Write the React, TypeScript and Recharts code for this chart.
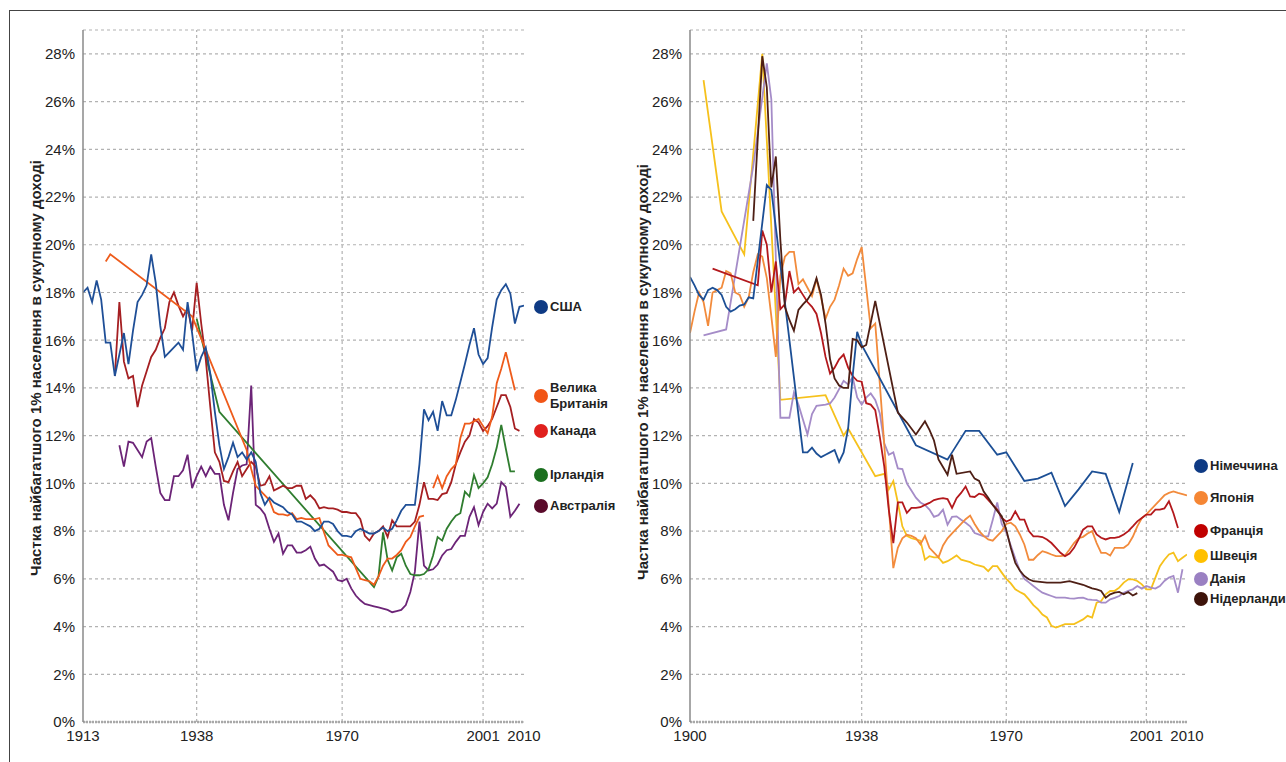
import { LineChart, Line, XAxis, YAxis, CartesianGrid, ReferenceLine } from 'recharts';

type Pt = { year: number; v: number };

const FONT = '"Liberation Sans", Arial, Helvetica, sans-serif';
const AXIS_TITLE = 'Частка найбагатшого 1% населення в сукупному доході';

const shareTicks = [0, 2, 4, 6, 8, 10, 12, 14, 16, 18, 20, 22, 24, 26, 28];
const leftYearTicks = [1913, 1938, 1970, 2001, 2010];
const rightYearTicks = [1900, 1938, 1970, 2001, 2010];
const gridYears = [1938, 1970, 2001];

// ---- англомовні країни ----
const usaFrom = 1913;
const usaShare = [
  18.0, 18.2, 17.6, 18.5, 17.7, 15.9, 15.9, 14.5, 15.4, 16.3,
  15.0, 16.4, 17.6, 17.9, 18.3, 19.6, 18.4, 16.6, 15.3, 15.5,
  15.7, 15.9, 15.6, 17.6, 16.3, 14.7, 15.3, 15.7, 14.6, 13.0,
  11.6, 10.6, 11.1, 11.7, 11.1, 11.3, 11.0, 11.3, 10.9, 9.6,
  9.1, 9.4, 9.2, 9.1, 9.0, 8.8, 8.7, 8.4, 8.4, 8.3,
  8.2, 8.0, 8.1, 8.4, 8.4, 8.3, 8.0, 7.8, 7.8, 7.75,
  8.0, 8.1, 8.0, 7.9, 7.9, 8.0, 8.15, 8.0, 8.1, 8.45,
  8.85, 9.1, 9.1, 9.1, 10.8, 13.1, 12.65, 13.0, 12.2, 13.45,
  12.85, 12.85, 13.5, 14.25, 15.0, 15.8, 16.5, 15.4, 15.0, 15.25,
  16.55, 17.7, 18.1, 18.35, 17.95, 16.7, 17.4, 17.45,
];

const ukSparse: [number, number][] = [[1918, 19.3], [1919, 19.6], [1937, 17.0], [1949, 11.4]];
const ukMidFrom = 1950;
const ukMid = [
  10.6, 9.9, 9.7, 9.5, 9.3, 8.8, 8.7, 8.7, 8.65, 8.75,
  8.5, 8.55, 8.5, 8.5, 8.5, 8.55, 7.95, 7.4, 7.2, 7.0,
  7.0, 6.95, 6.9, 6.45, 6.0, 5.95, 5.9, 5.75, 6.1, 6.55,
  6.85, 6.85, 7.0, 7.2, 7.55, 7.75, 8.2, 8.6, 8.65,
];
const ukLateFrom = 1990;
const ukLate = [9.8, 10.3, 9.8, 10.3, 10.6, 10.8, 11.9, 12.5, 12.5, 12.6, 12.7, 12.4, 12.1, 12.8, 14.2, 14.8, 15.5, 14.7, 13.9];

const canadaFrom = 1920;
const canadaShare = [
  14.5, 17.6, 15.1, 14.4, 14.5, 13.2, 14.1, 14.7, 15.3, 15.6,
  16.1, 16.5, 17.6, 18.0, 17.45, 17.0, 17.35, 16.4, 18.4, 16.7,
  15.2, 13.2, 11.3, 10.9, 10.1, 10.05, 10.5, 10.9, 10.3, 10.6,
  10.9, 10.7, 9.9, 9.95, 10.3, 9.7, 9.8, 9.9, 9.8, 9.8,
  9.9, 9.9, 9.35, 9.5, 9.3, 8.95, 9.0, 8.95, 8.95, 8.9,
  8.8, 8.8, 8.75, 8.75, 8.5, 7.8, 7.6, 7.9, 8.0, 8.2,
  7.75, 8.45, 8.2, 8.2, 8.2, 8.2, 8.4, 9.1, 10.05, 9.35,
  9.35, 9.3, 9.55, 9.6, 10.05, 10.8, 11.3, 11.75, 12.0, 12.7,
  12.55, 12.2, 12.4, 12.7, 13.2, 13.7, 13.7, 13.2, 12.3, 12.2,
];

const irelandSparse: [number, number][] = [[1938, 16.9], [1943, 13.0]];
const irelandFrom = 1977;
const irelandShare = [
  5.65, 6.1, 7.95, 6.8, 6.35, 6.9, 7.05, 6.55, 6.2, 6.15,
  6.15, 6.2, 6.4, 6.98, 7.75, 7.6, 8.1, 8.4, 8.65, 8.75,
  9.65, 9.45, 10.35, 9.8, 10.0, 10.25, 10.8, 11.5, 12.45, 11.45,
  10.5, 10.5,
];

const australiaFrom = 1921;
const australiaShare = [
  11.6, 10.7, 11.75, 11.7, 11.4, 11.1, 11.75, 11.9, 10.7, 9.6,
  9.3, 9.3, 10.3, 10.3, 10.55, 11.2, 9.8, 10.3, 10.7, 10.3,
  10.7, 10.4, 10.4, 9.1, 8.45, 9.6, 10.6, 10.75, 10.8, 14.1,
  9.1, 8.95, 8.7, 8.1, 7.55, 7.9, 7.05, 7.4, 7.4, 7.1,
  7.1, 7.2, 7.35, 6.85, 6.55, 6.6, 6.45, 6.3, 5.95, 5.9,
  6.0, 5.6, 5.3, 5.1, 4.95, 4.9, 4.85, 4.8, 4.75, 4.7,
  4.6, 4.65, 4.7, 4.9, 5.45, 6.3, 8.4, 6.55, 6.35, 6.4,
  6.6, 6.98, 7.2, 7.25, 7.55, 7.8, 7.8, 8.6, 9.0, 8.25,
  8.8, 9.15, 8.95, 9.15, 10.05, 9.85, 8.6, 8.85, 9.15,
];

// ---- континентальна Європа та Японія ----
const germanyEarlyFrom = 1900;
const germanyEarly = [18.65, 18.3, 17.9, 17.7, 18.1, 18.2, 18.1, 17.9, 17.4, 17.2, 17.3, 17.45, 17.5, 17.8, 17.75];
const germanyWar: [number, number][] = [[1917, 22.5], [1918, 22.3]];
const germanyMidFrom = 1925;
const germanyMid = [11.3, 11.3, 11.5, 11.25, 11.1, 11.2, 11.3, 11.4, 10.9, 11.3, 12.3, 14.5, 16.35, 15.8];
const germanyPost: [number, number][] = [
  [1950, 11.6], [1957, 11.0], [1958, 11.3], [1961, 12.2], [1964, 12.2], [1968, 11.2], [1970, 11.3],
  [1974, 10.1], [1977, 10.2], [1980, 10.45], [1983, 9.05], [1986, 9.75], [1989, 10.5], [1992, 10.4],
  [1995, 8.8], [1998, 10.85],
];

const japanFrom = 1900;
const japanShare = [
  16.3, 17.2, 18.0, 17.6, 16.6, 18.0, 18.1, 18.2, 18.9, 18.8,
  18.0, 17.9, 17.4, 17.8, 18.85, 19.6, 19.5, 18.6, 17.0, 15.3,
  18.7, 19.5, 19.7, 19.7, 18.35, 18.55, 18.2, 17.85, 18.55, 17.8,
  16.9, 17.4, 17.7, 18.3, 19.0, 18.7, 18.8, 19.4, 19.9, 18.2,
  16.5, 16.7, 14.2, 11.6, 9.0, 6.45, 7.3, 7.7, 7.85, 7.8,
  7.7, 7.45, 7.8, 7.3, 7.1, 6.9, 7.4, 7.7, 7.9, 8.1,
  8.3, 8.5, 8.65, 8.3, 8.0, 7.8, 7.65, 7.6, 7.8, 8.0,
  8.3, 8.35, 8.2, 7.86, 7.44, 6.8, 6.8, 7.0, 7.16, 7.1,
  7.02, 6.95, 6.95, 6.98, 7.23, 7.5, 7.7, 7.76, 7.9, 8.0,
  7.5, 7.09, 7.09, 6.98, 7.3, 7.3, 7.3, 7.44, 7.76, 8.2,
  8.55, 8.7, 8.9, 9.1, 9.3, 9.5, 9.6, 9.66, 9.6, 9.55, 9.5,
];

const franceSparse: [number, number][] = [[1905, 19.0], [1915, 18.3]];
const franceFrom = 1916;
const franceShare = [
  20.6, 20.0, 18.0, 19.3, 17.3, 17.5, 18.9, 18.0, 18.2, 17.9,
  17.6, 17.4, 17.1, 16.3, 15.3, 14.6, 14.85, 15.2, 15.4, 14.85,
  14.5, 14.3, 14.26, 13.36, 13.3, 13.07, 11.96, 10.7, 8.89, 7.5,
  9.2, 9.2, 8.76, 8.97, 8.97, 9.0, 9.1, 9.18, 9.3, 9.35,
  9.38, 9.34, 8.97, 9.38, 9.6, 9.87, 9.45, 9.43, 9.57, 9.52,
  9.31, 9.1, 8.9, 8.55, 8.4, 8.48, 8.83, 8.48, 8.48, 8.0,
  7.78, 7.78, 7.75, 7.65, 7.5, 7.3, 7.09, 6.95, 7.06, 7.3,
  7.65, 8.06, 8.2, 8.2, 7.86, 7.72, 7.65, 7.72, 7.72, 7.76,
  7.86, 8.0, 8.2, 8.41, 8.55, 8.69, 8.69, 8.9, 8.9, 8.95,
  9.25, 8.75, 8.13,
];

const swedenSparse: [number, number][] = [
  [1903, 26.9], [1907, 21.4], [1912, 19.6], [1916, 28.0], [1920, 13.5], [1930, 13.7],
  [1934, 12.0], [1935, 12.3], [1941, 10.3], [1943, 10.4],
];
const swedenFrom = 1944;
const swedenShare = [
  9.75, 10.1, 9.2, 8.2, 7.8, 7.7, 7.65, 7.6, 6.8, 6.95,
  6.9, 6.9, 6.67, 6.74, 6.85, 6.98, 6.8, 6.75, 6.7, 6.6,
  6.55, 6.5, 6.32, 6.53, 6.53, 6.26, 6.0, 5.81, 5.56, 5.45,
  5.35, 5.14, 4.9, 4.73, 4.5, 4.38, 4.03, 3.96, 4.03, 4.1,
  4.1, 4.1, 4.2, 4.3, 4.45, 4.38, 5.0, 5.07, 5.35, 5.49,
  5.5, 5.63, 5.84, 5.98, 5.98, 5.91, 5.77, 5.56, 5.56, 6.05,
  6.53, 6.8, 7.02, 7.1, 6.74, 6.88, 7.02,
];

const denmarkSparse: [number, number][] = [
  [1903, 16.2], [1908, 16.45], [1914, 23.3], [1917, 27.6], [1918, 26.1], [1920, 12.75],
  [1922, 12.75], [1923, 13.8], [1924, 13.3], [1926, 12.05], [1927, 12.9], [1928, 13.25],
  [1930, 13.3], [1931, 13.35], [1932, 13.6], [1934, 14.3], [1935, 14.15], [1936, 14.45],
  [1937, 13.6], [1938, 13.3], [1939, 13.6], [1940, 13.77], [1941, 13.5], [1942, 12.94],
  [1943, 11.68], [1944, 11.2], [1945, 11.3], [1946, 10.63], [1947, 10.6], [1948, 10.0],
  [1949, 9.7], [1950, 9.4],
];
const denmarkFrom = 1951;
const denmarkShare = [
  9.2, 9.1, 8.9, 8.6, 8.67, 8.9, 8.27, 8.6, 8.62, 8.48,
  8.35, 8.2, 7.92, 7.85, 7.78, 7.78, 8.47, 9.2, 8.3, 7.95,
  7.4, 6.85, 6.35, 6.0, 5.85, 5.7, 5.55, 5.42, 5.35, 5.28,
  5.21, 5.21, 5.21, 5.18, 5.17, 5.2, 5.21, 5.14, 5.12, 5.11,
  5.0, 5.0, 5.14, 5.2, 5.28, 5.42, 5.5, 5.56, 5.7, 5.59,
  5.7, 5.63, 5.59, 5.7, 5.91, 6.05, 6.12, 5.42, 6.4,
];

const netherlandsShare: [number, number][] = [
  [1914, 21.0], [1916, 27.9], [1917, 26.6], [1918, 22.4], [1919, 23.7], [1920, 20.2],
  [1921, 17.4], [1922, 16.85], [1923, 16.4], [1924, 17.27], [1925, 17.5], [1926, 17.7],
  [1927, 18.0], [1928, 18.6], [1929, 17.9], [1930, 16.7], [1931, 15.2], [1932, 14.4],
  [1933, 14.1], [1934, 14.0], [1935, 14.0], [1936, 16.05], [1937, 16.0], [1938, 15.7],
  [1939, 15.8], [1941, 17.65], [1946, 12.97], [1948, 12.55], [1950, 12.05], [1952, 12.6],
  [1953, 12.24], [1954, 11.8], [1955, 11.0], [1957, 10.36], [1958, 11.2], [1959, 10.4],
  [1962, 10.5], [1963, 10.2], [1964, 10.1], [1965, 9.66], [1966, 9.4], [1967, 9.1],
  [1968, 8.85], [1969, 8.62], [1970, 8.06], [1971, 7.3], [1972, 6.67], [1973, 6.35],
  [1974, 6.12], [1975, 5.98], [1976, 5.9], [1977, 5.88], [1978, 5.86], [1979, 5.84],
  [1980, 5.84], [1981, 5.84], [1982, 5.84], [1983, 5.87], [1984, 5.9], [1985, 5.85],
  [1986, 5.8], [1987, 5.75], [1988, 5.67], [1989, 5.6], [1990, 5.56], [1991, 5.49],
  [1992, 5.21], [1993, 5.35], [1994, 5.42], [1995, 5.45], [1996, 5.35], [1997, 5.45],
  [1998, 5.3], [1999, 5.4],
];

function run(from: number, values: number[]): Pt[] {
  return values.map((v, i) => ({ year: from + i, v }));
}
function pairs(list: [number, number][]): Pt[] {
  return list.map(([year, v]) => ({ year, v }));
}

type Series = { key: string; color: string; data: Pt[] };

const leftSeries: Series[] = [
  { key: 'australia', color: '#6c2477', data: run(australiaFrom, australiaShare) },
  { key: 'ireland', color: '#2f7d2f', data: [...pairs(irelandSparse), ...run(irelandFrom, irelandShare)] },
  { key: 'canada', color: '#a51f22', data: run(canadaFrom, canadaShare) },
  { key: 'ukEarly', color: '#ee5b1b', data: [...pairs(ukSparse), ...run(ukMidFrom, ukMid)] },
  { key: 'ukLate', color: '#ee5b1b', data: run(ukLateFrom, ukLate) },
  { key: 'usa', color: '#1f4f97', data: run(usaFrom, usaShare) },
];

const rightSeries: Series[] = [
  { key: 'sweden', color: '#f6c11c', data: [...pairs(swedenSparse), ...run(swedenFrom, swedenShare)] },
  { key: 'denmark', color: '#a58cc8', data: [...pairs(denmarkSparse), ...run(denmarkFrom, denmarkShare)] },
  { key: 'japan', color: '#f28b3c', data: run(japanFrom, japanShare) },
  { key: 'france', color: '#b3181c', data: [...pairs(franceSparse), ...run(franceFrom, franceShare)] },
  {
    key: 'germany', color: '#1c4f95',
    data: [...run(germanyEarlyFrom, germanyEarly), ...pairs(germanyWar), ...run(germanyMidFrom, germanyMid), ...pairs(germanyPost)],
  },
  { key: 'netherlands', color: '#4e1f15', data: pairs(netherlandsShare) },
];

const leftLegend = [
  { label: ['США'], dot: '#0e3a84', y: 306 },
  { label: ['Велика', 'Британія'], dot: '#f15517', y: 387 },
  { label: ['Канада'], dot: '#e0201d', y: 430 },
  { label: ['Ірландія'], dot: '#1b6f1f', y: 474 },
  { label: ['Австралія'], dot: '#5a0b2b', y: 505 },
];
const rightLegend = [
  { label: ['Німеччина'], dot: '#0e3a84', y: 465 },
  { label: ['Японія'], dot: '#f58634', y: 497 },
  { label: ['Франція'], dot: '#c00000', y: 530 },
  { label: ['Швеція'], dot: '#ffc000', y: 555 },
  { label: ['Данія'], dot: '#9a80c2', y: 578 },
  { label: ['Нідерланди'], dot: '#3d130a', y: 598 },
];

const tickStyle = { fontSize: 15, fill: '#222', fontFamily: FONT };

function Panel({ left, width, axisWidth, plotRight, domain, ticks, series }: {
  left: number; width: number; axisWidth: number; plotRight: number;
  domain: [number, number]; ticks: number[]; series: Series[];
}) {
  return (
    <div style={{ position: 'absolute', left, top: 0 }}>
      <LineChart width={width} height={762} margin={{ top: 30, right: width - plotRight, bottom: 10, left: 0 }}>
        <CartesianGrid vertical={false} stroke="#b2b2b2" strokeDasharray="3 3" strokeWidth={1.2} />
        {gridYears.map(y => (
          <ReferenceLine key={y} x={y} stroke="#b2b2b2" strokeDasharray="3 3" strokeWidth={1.2} />
        ))}
        <XAxis
          dataKey="year"
          type="number"
          domain={domain}
          ticks={ticks}
          interval={0}
          allowDataOverflow
          tickLine={false}
          axisLine={{ stroke: '#a8a8a8', strokeWidth: 2.5, strokeDasharray: '2 1' }}
          tick={tickStyle}
          height={30}
        />
        <YAxis
          type="number"
          domain={[0, 29]}
          ticks={shareTicks}
          interval={0}
          tickFormatter={(v: number) => `${v}%`}
          tickLine={false}
          axisLine={{ stroke: '#8a8a8a', strokeWidth: 1.5 }}
          tick={tickStyle}
          width={axisWidth}
        />
        {series.map(s => (
          <Line
            key={s.key}
            name={s.key}
            data={s.data}
            dataKey="v"
            type="linear"
            stroke={s.color}
            strokeWidth={1.8}
            dot={false}
            isAnimationActive={false}
          />
        ))}
      </LineChart>
    </div>
  );
}

function Legend({ items, x }: { items: { label: string[]; dot: string; y: number }[]; x: number }) {
  return (
    <>
      {items.map(it => (
        <div key={it.label.join(' ')} style={{ position: 'absolute', left: x - 7, top: it.y - 7, display: 'flex', alignItems: 'center' }}>
          <span style={{ width: 14, height: 14, borderRadius: 7, background: it.dot, flex: 'none' }} />
          <span style={{ marginLeft: 2, fontFamily: FONT, fontWeight: 700, fontSize: 13, lineHeight: '16px', color: '#222', whiteSpace: 'nowrap' }}>
            {it.label.map(l => <div key={l}>{l}</div>)}
          </span>
        </div>
      ))}
    </>
  );
}

function AxisTitle({ cx, cy }: { cx: number; cy: number }) {
  return (
    <div style={{
      position: 'absolute', left: cx, top: cy, transform: 'translate(-50%, -50%) rotate(-90deg)',
      fontFamily: FONT, fontWeight: 700, fontSize: 15, color: '#222', whiteSpace: 'nowrap',
    }}>
      {AXIS_TITLE}
    </div>
  );
}

export default function App() {
  return (
    <div style={{ position: 'fixed', left: 0, top: 0, width: 1286, height: 762, overflow: 'hidden', background: '#fff' }}>
      <div style={{ position: 'absolute', left: 9, top: 10, right: 0, bottom: 0, borderTop: '1.5px solid #444', borderLeft: '1.5px solid #444' }} />
      <Panel left={0} width={560} axisWidth={83} plotRight={524} domain={[1913, 2010]} ticks={leftYearTicks} series={leftSeries} />
      <Panel left={600} width={640} axisWidth={90} plotRight={587} domain={[1900, 2010]} ticks={rightYearTicks} series={rightSeries} />
      <AxisTitle cx={35} cy={368} />
      <AxisTitle cx={642} cy={372} />
      <Legend items={leftLegend} x={541} />
      <Legend items={rightLegend} x={1201} />
    </div>
  );
}
